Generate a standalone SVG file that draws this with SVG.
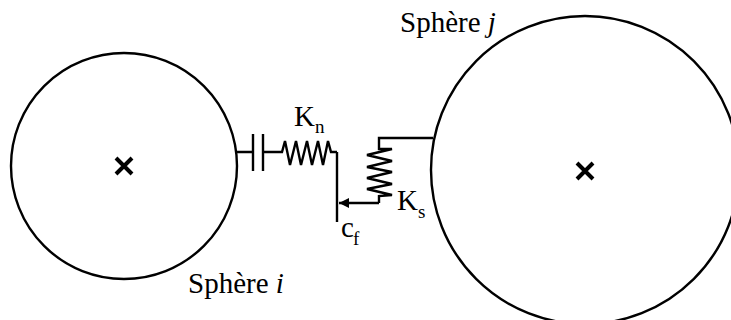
<svg xmlns="http://www.w3.org/2000/svg" width="731" height="320" viewBox="0 0 731 320">
<style>
.l{fill:none;stroke:#000;stroke-width:2.4}
.c{fill:none;stroke:#000;stroke-width:2.4}
.x{fill:none;stroke:#000;stroke-width:4}
text{font-family:"Liberation Serif","Times New Roman",serif;fill:#000;font-size:29px}
.s{font-size:19px}
</style>
<defs><marker id="a" markerUnits="userSpaceOnUse" markerWidth="12" markerHeight="12" refX="10" refY="5" orient="auto"><path d="M0 0L10 5L0 10Z" fill="#000"/></marker></defs>
<g id="sphere-i"><circle class="c" cx="124" cy="166" r="113"/><path class="x" d="M116 158L132 174M132 158L116 174"/><text x="188" y="293">Sphère <tspan font-style="italic">i</tspan></text></g>
<g id="sphere-j"><circle class="c" cx="585" cy="170" r="154"/><path class="x" d="M577 163L593 179M593 163L577 179"/><text x="400" y="32">Sphère <tspan font-style="italic">j</tspan></text></g>
<g id="connectors">
<path class="l" d="M236 152H253M253 134V171M263 134V171M263 152H282L285 141L290 165L296 141L301 165L307 141L312 165L318 141L323 165L328 141L331 152H337M337 152V222"/>
<path class="l" d="M433 138H379V149H392L367 155L392 161L367 167L392 172L367 178L392 184L367 189L392 195L379 196V203"/>
<path class="l" marker-end="url(#a)" d="M379 203H339"/>
</g>
<g id="label-kn"><text x="294" y="126">K<tspan class="s" x="315" y="133">n</tspan></text></g>
<g id="label-ks"><text x="397" y="210">K<tspan class="s" x="418" y="218">s</tspan></text></g>
<g id="label-cf"><text x="341" y="237">c<tspan class="s" x="353" y="245">f</tspan></text></g>
</svg>
